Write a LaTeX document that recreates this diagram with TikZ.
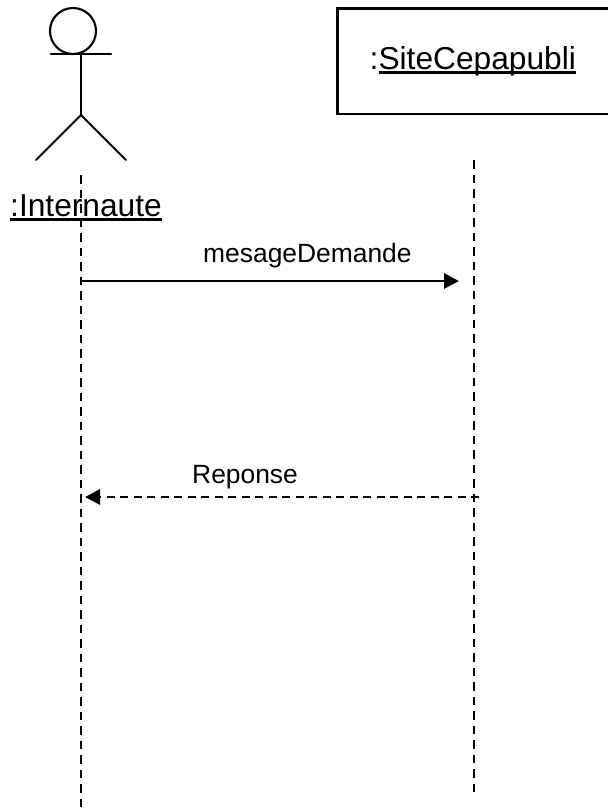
\documentclass[tikz,border=0pt]{standalone}
\usepackage{fontspec}
\setmainfont{Liberation Sans}
\usetikzlibrary{arrows.meta}
\newcommand\ulx[1]{\setbox0\hbox{#1}\rlap{\rule[-5pt]{\wd0}{2.8pt}}\box0}
\tikzset{
  x=1pt,y=-1pt,
  figure/.style={draw=black,line width=2.1pt,line cap=round},
  lifeline/.style={draw=black,line width=2.1pt,dash pattern=on 8.5pt off 6pt},
  call/.style={draw=black,line width=2.9pt,-{Triangle[length=15pt,width=15pt]}},
  reply/.style={draw=black,line width=2.9pt,dash pattern=on 8pt off 5.5pt,-{Triangle[length=15pt,width=15pt]}},
  objname/.style={anchor=base west,inner sep=0pt,font=\fontsize{31.7}{34}\selectfont},
  msg/.style={anchor=base west,inner sep=0pt,font=\fontsize{26.4}{30}\selectfont},
}
\begin{document}
\begin{tikzpicture}
\useasboundingbox (0,0) rectangle (608,811);
% object box, running off the right edge
\coordinate (bx1) at (608,8.5);
\coordinate (bx2) at (337.5,8.5);
\coordinate (bx3) at (337.5,114);
\coordinate (bx4) at (608,114);
\draw[figure,line cap=butt] (bx1) -- (bx2) -- (bx3) -- (bx4);
\node[objname] (site) at (369.5,69) {:\ulx{SiteCepapubli}};
% actor
\node[draw=black,line width=2.1pt,circle,minimum size=46pt,inner sep=0pt] (head) at (73,31) {};
\coordinate (armL) at (51,54);
\coordinate (armR) at (111,54);
\coordinate (neck) at (81,54);
\coordinate (hip) at (81,115);
\coordinate (legL) at (36,160);
\coordinate (legR) at (126,160);
\draw[figure] (armL) -- (armR);
\draw[figure] (neck) -- (hip);
\draw[figure] (legL) -- (hip) -- (legR);
\node[objname] (actor) at (10,216) {\ulx{:Internaute}};
% lifelines
\coordinate (a1) at (81,175);
\coordinate (a2) at (81,811);
\coordinate (b1) at (474,160);
\coordinate (b2) at (474,796);
\draw[lifeline] (a1) -- (a2);
\draw[lifeline] (b1) -- (b2);
% messages
\coordinate (m1s) at (81,281);
\coordinate (m1e) at (459,281);
\coordinate (m2s) at (479,497);
\coordinate (m2e) at (85,497);
\draw[call] (m1s) -- (m1e);
\node[msg] (mesg) at (203,262) {mesageDemande};
\draw[reply] (m2s) -- (m2e);
\node[msg] (rep) at (192,483) {Reponse};
\end{tikzpicture}
\end{document}
